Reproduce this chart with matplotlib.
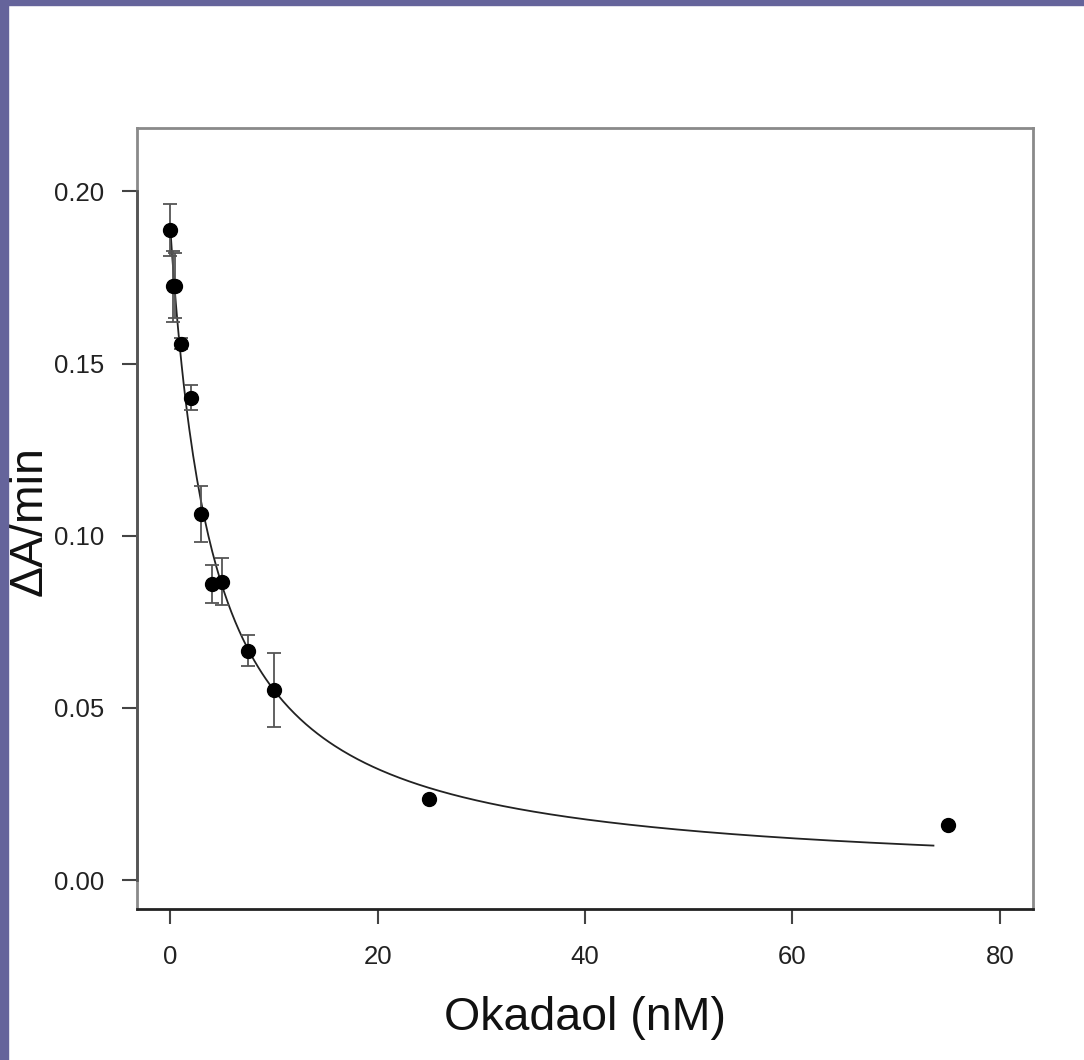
import numpy as np
import matplotlib
matplotlib.use("Agg")
import matplotlib.pyplot as plt
from matplotlib.patches import Rectangle

# okadaol concentration (nM), rate and error
conc = [0, 0.25, 0.5, 1, 2, 3, 4, 5, 7.5, 10, 25, 75]
rate = [0.1887, 0.1724, 0.1726, 0.1558, 0.1401, 0.1064, 0.0860, 0.0866, 0.0666, 0.0552, 0.0235, 0.0160]
err = [0.0076, 0.0102, 0.0095, 0.0015, 0.0036, 0.0081, 0.0055, 0.0068, 0.0045, 0.0108, 0.0, 0.0]

xticks = [0, 20, 40, 60, 80]
yticks = [0.00, 0.05, 0.10, 0.15, 0.20]

plt.rcParams['font.family'] = ['Liberation Sans', 'DejaVu Sans']


def fit_curve(x, y):
    # y = v0 / (1 + x/k), grid search on k, least squares for v0
    x = np.asarray(x, float)
    y = np.asarray(y, float)
    best = None
    for k in np.linspace(0.5, 20, 2000):
        f = 1.0 / (1.0 + x / k)
        v0 = np.dot(f, y) / np.dot(f, f)
        sse = np.sum((y - v0 * f) ** 2)
        if best is None or sse < best[0]:
            best = (sse, v0, k)
    return best[1], best[2]


v0, k = fit_curve(conc, rate)
xs = np.linspace(0, 73.6, 400)
ys = v0 / (1 + xs / k)

fig = plt.figure(figsize=(10.84, 10.60), dpi=100)
ax = fig.add_axes([137 / 1084, 1 - 909 / 1060, 896 / 1084, 781 / 1060])

ax.plot(xs, ys, color='#222222', lw=1.3, zorder=2)
ax.errorbar(conc, rate, yerr=err, fmt='none', ecolor='#555555', elinewidth=1.3,
            capsize=5, capthick=1.3, zorder=3)
ax.plot(conc, rate, 'o', color='black', ms=10, zorder=4)

ax.set_xlim(-3.2, 83.2)
ax.set_ylim(-0.0084, 0.2184)
ax.set_xticks(xticks)
ax.set_xticklabels([str(t) for t in xticks])
ax.set_yticks(yticks)
ax.set_yticklabels(['%.2f' % t for t in yticks])
ax.tick_params(labelsize=18.5, length=10.8, width=1.5, color='#444444',
               labelcolor='#222222', pad=13)
ax.tick_params(axis='x', pad=15)

for s in ['top', 'right', 'left']:
    ax.spines[s].set_color('#8a8a8a')
    ax.spines[s].set_linewidth(2)
ax.spines['bottom'].set_color('#222222')
ax.spines['bottom'].set_linewidth(2)
# R-style axis line over the tick span
ax.plot([0, 0], [0, 0.2], color='#555555', lw=2, transform=ax.get_yaxis_transform(),
        clip_on=False, zorder=5)

ax.set_xlabel('Okadaol (nM)', fontsize=33.5, color='#111111')
ax.xaxis.set_label_coords(0.5, -0.112)
ax.set_ylabel('ΔA/min', fontsize=33.5, color='#111111')
ax.yaxis.set_label_coords(-0.095, 0.497)

# purple frame strips at left and top
fig.patches.append(Rectangle((0, 0), 8 / 1084, 1, transform=fig.transFigure,
                             color='#65649b', zorder=0))
fig.patches.append(Rectangle((0, 1 - 5 / 1060), 1, 5 / 1060, transform=fig.transFigure,
                             color='#65649b', zorder=0))

fig.savefig('out.png', dpi=100)
